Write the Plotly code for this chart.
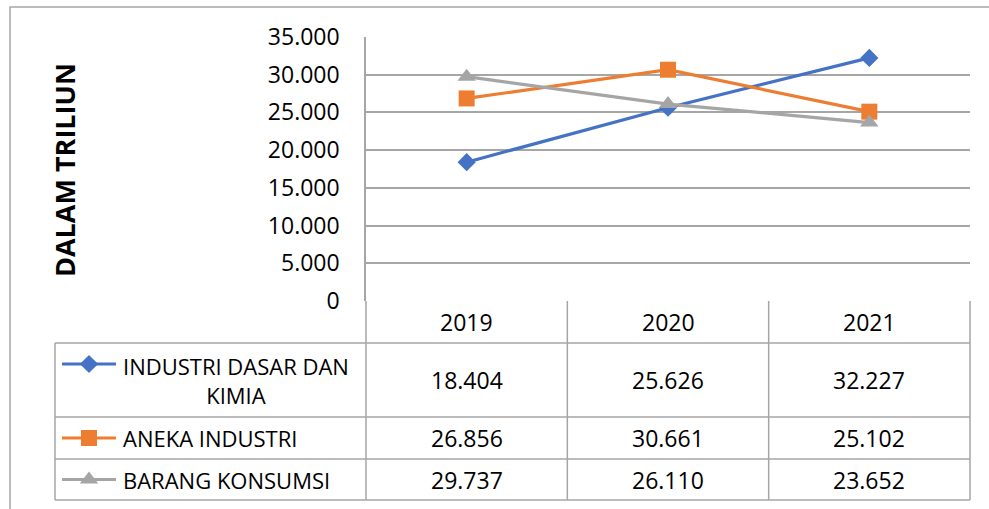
import plotly.graph_objects as go

# ---------------- data ----------------
YEARS = ["2019", "2020", "2021"]
SERIES_NAMES = ["INDUSTRI DASAR DAN KIMIA", "ANEKA INDUSTRI", "BARANG KONSUMSI"]
SERIES_LABELS = ["INDUSTRI DASAR DAN<br>KIMIA", "ANEKA INDUSTRI", "BARANG KONSUMSI"]
INDUSTRI_DASAR = [18404, 25626, 32227]
ANEKA_INDUSTRI = [26856, 30661, 25102]
BARANG_KONSUMSI = [29737, 26110, 23652]
Y_TITLE = "DALAM TRILIUN"
Y_TICKS = [0, 5000, 10000, 15000, 20000, 25000, 30000, 35000]

VALUES = [INDUSTRI_DASAR, ANEKA_INDUSTRI, BARANG_KONSUMSI]
COLORS = ["#4472C4", "#ED7D31", "#A5A5A5"]
SYMBOLS = ["diamond", "square", "triangle-up"]
SIZES = [14, 16, 16]

# ---------------- layout constants (pixels) ----------------
W, H = 989, 509
PLOT_L, PLOT_R, PLOT_T, PLOT_B = 366, 970, 37, 301
TAB_L, TAB_B = 55, 500
ROW_H = [42, 74, 42, 41]          # header row + one row per series
GRID = "#A6A6A6"
FONT = "Open Sans"
FS = 23

COL_PX = (PLOT_R - PLOT_L) / len(YEARS)          # px per category
LEG_W = (PLOT_L - TAB_L) / COL_PX                 # legend column width in category units
PAD = 6                                          # px padding so border lines are not clipped


def fmt(v):
    return f"{v:,}".replace(",", ".")


fig = go.Figure()

# main lines
for name, vals, col, sym, sz in zip(SERIES_NAMES, VALUES, COLORS, SYMBOLS, SIZES):
    fig.add_trace(go.Scatter(
        x=YEARS, y=vals, name=name, mode="lines+markers",
        line=dict(color=col, width=3.2),
        marker=dict(symbol=sym, size=sz, color=col, line=dict(width=0)),
        xaxis="x", yaxis="y", showlegend=False, cliponaxis=False,
        hovertemplate="%{x}: %{y:,d}<extra>" + name + "</extra>",
    ))

# ---------------- data table (second subplot) ----------------
n = len(YEARS)
tab_total = sum(ROW_H)
row_tops = [sum(ROW_H[:i]) for i in range(len(ROW_H))]
row_centers = [row_tops[i] + ROW_H[i] / 2 for i in range(len(ROW_H))]
x_left = -0.5 - LEG_W

shapes = []
line_style = dict(color=GRID, width=1.5)
for i in range(1, len(ROW_H) + 1):
    y = sum(ROW_H[:i])
    shapes.append(dict(type="line", xref="x2", yref="y2", x0=x_left, x1=n - 0.5,
                       y0=y, y1=y, line=line_style))
for k in range(n + 1):
    xk = k - 0.5
    shapes.append(dict(type="line", xref="x2", yref="y2", x0=xk, x1=xk,
                       y0=0, y1=tab_total, line=line_style))
shapes.append(dict(type="line", xref="x2", yref="y2", x0=x_left, x1=x_left,
                   y0=ROW_H[0], y1=tab_total, line=line_style))
# outer chart border
shapes.append(dict(type="rect", xref="paper", yref="paper",
                   x0=10 / W, x1=1.02, y0=-0.05, y1=(H - 7) / H,
                   line=dict(color=GRID, width=1.5), fillcolor="rgba(0,0,0,0)"))

annotations = []
for i, yr in enumerate(YEARS):
    annotations.append(dict(xref="x2", yref="y2", x=i, y=row_centers[0], text=yr,
                            showarrow=False, font=dict(family=FONT, size=FS, color="black")))
for r, vals in enumerate(VALUES):
    for i, v in enumerate(vals):
        annotations.append(dict(xref="x2", yref="y2", x=i, y=row_centers[r + 1], text=fmt(v),
                                showarrow=False, font=dict(family=FONT, size=FS, color="black")))

key_x0 = x_left + 7 / COL_PX
key_x1 = x_left + 61 / COL_PX
key_xm = (key_x0 + key_x1) / 2
label_x = x_left + 66 / COL_PX
for r, (lab, col, sym, sz) in enumerate(zip(SERIES_LABELS, COLORS, SYMBOLS, SIZES)):
    nlines = lab.count("<br>") + 1
    yc = row_centers[r + 1]
    key_y = yc - (nlines - 1) * 16
    fig.add_trace(go.Scatter(
        x=[key_x0, key_x1], y=[key_y] * 2, mode="lines", line=dict(color=col, width=3.2),
        xaxis="x2", yaxis="y2", showlegend=False, hoverinfo="skip", cliponaxis=False,
    ))
    fig.add_trace(go.Scatter(
        x=[key_xm], y=[key_y], mode="markers",
        marker=dict(symbol=sym, size=sz, color=col, opacity=1, line=dict(width=0)),
        xaxis="x2", yaxis="y2", showlegend=False, hoverinfo="skip", cliponaxis=False,
    ))
    annotations.append(dict(xref="x2", yref="y2", x=label_x, y=yc, text=lab,
                            xanchor="left", yanchor="middle", align="center", showarrow=False,
                            font=dict(family=FONT, size=22, color="black")))

annotations.append(dict(xref="paper", yref="paper", x=64 / W, y=(H - 170) / H,
                        xanchor="center", yanchor="middle",
                        text="<b>" + Y_TITLE + "</b>", textangle=-90, showarrow=False,
                        font=dict(family=FONT, size=27, color="black")))

fig.update_layout(
    width=W, height=H,
    autosize=False,
    margin=dict(l=0, r=0, t=0, b=0, pad=0, autoexpand=False),
    paper_bgcolor="white", plot_bgcolor="rgba(0,0,0,0)",
    separators=",.",
    showlegend=False,
    xaxis=dict(domain=[PLOT_L / W, PLOT_R / W], type="category", range=[-0.5, n - 0.5],
               showticklabels=False, showgrid=False, zeroline=False, showline=False,
               fixedrange=True, automargin=False),
    yaxis=dict(domain=[(H - PLOT_B) / H, (H - PLOT_T) / H], range=[0, 35000],
               tickvals=Y_TICKS, tickformat=",d", showgrid=True, gridcolor=GRID, gridwidth=1.5,
               showline=True, linecolor=GRID, linewidth=1.5, zeroline=False, ticks="",
               ticklabelstandoff=20, automargin=False,
               tickfont=dict(family=FONT, size=FS, color="black"), fixedrange=True),
    xaxis2=dict(domain=[(TAB_L - PAD) / W, (PLOT_R + PAD) / W],
                range=[x_left - PAD / COL_PX, n - 0.5 + PAD / COL_PX],
                visible=False, fixedrange=True, anchor="y2", automargin=False),
    yaxis2=dict(domain=[(H - TAB_B - PAD) / H, (H - PLOT_B + PAD) / H],
                range=[tab_total + PAD, -PAD],
                visible=False, fixedrange=True, anchor="x2", automargin=False),
    shapes=shapes,
    annotations=annotations,
)

fig.write_html("out.html", config={"displayModeBar": False},
               post_script="document.body.style.margin='0';")
